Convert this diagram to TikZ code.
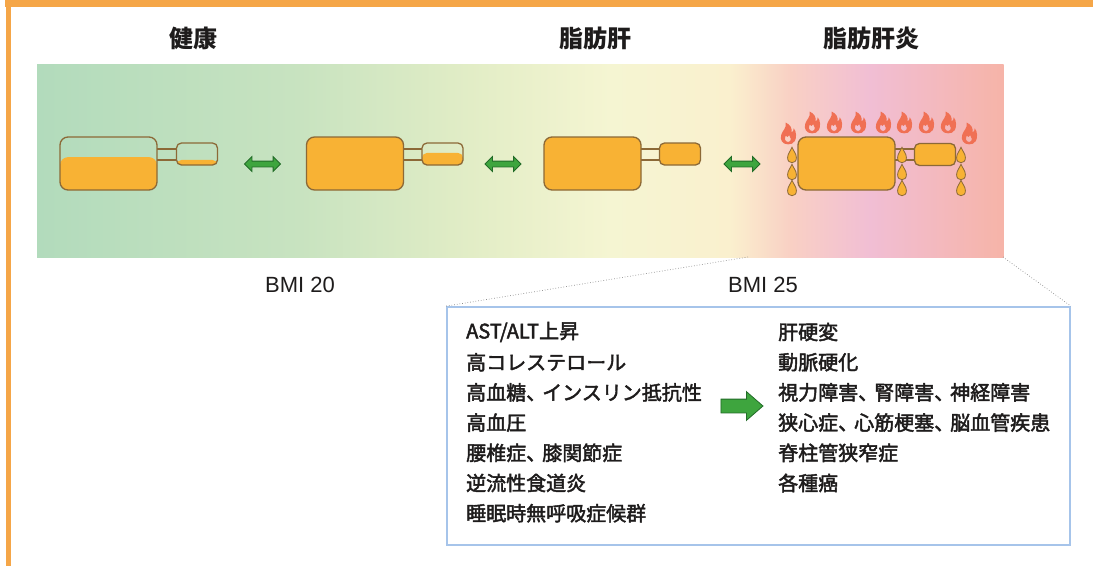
\documentclass[tikz,border=0pt]{standalone}
\usepackage{fontspec}
\setmainfont{Liberation Sans}
\newfontfamily\jpfont{Noto Sans CJK JP}
\newfontfamily\jpitem{Noto Sans CJK JP}[FakeBold=2.2]
\usetikzlibrary{shapes.arrows,calc}

\definecolor{framecol}{RGB}{245,166,72}
\definecolor{liverfill}{RGB}{248,178,52}
\definecolor{liverline}{RGB}{140,105,55}
\definecolor{flamecol}{RGB}{240,112,84}
\definecolor{arrowfill}{RGB}{62,165,62}
\definecolor{arrowline}{RGB}{34,108,40}
\definecolor{boxline}{RGB}{166,196,234}
\definecolor{textcol}{RGB}{30,28,28}
\definecolor{bgA}{RGB}{178,219,188}
\definecolor{bgB}{RGB}{200,227,192}
\definecolor{bgC}{RGB}{226,237,198}
\definecolor{bgD}{RGB}{245,245,210}
\definecolor{bgE}{RGB}{250,240,206}
\definecolor{bgF}{RGB}{249,208,196}
\definecolor{bgG}{RGB}{241,190,212}
\definecolor{bgH}{RGB}{246,180,168}

% narrower ideographic comma
\newcommand\tou{\makebox[0.8em][l]{、}}

\tikzset{
  liver/.style={draw=liverline, line width=1.3pt, inner sep=0pt},
  bigliver/.style={liver, minimum width=97pt, minimum height=53pt, rounded corners=8pt},
  smallliver/.style={liver, minimum width=41pt, minimum height=22pt, rounded corners=5pt},
  level/.style={path picture={\fill[liverfill] (path picture bounding box.south west) rectangle
      ($(path picture bounding box.south east)!#1!(path picture bounding box.north east)$);}},
  full/.style={fill=liverfill},
  tube/.style={draw=liverline, line width=1.1pt},
  swap/.style={double arrow, fill=arrowfill, draw=arrowline, line width=0.8pt,
      minimum height=36pt, inner xsep=0pt, inner ysep=2.5pt, double arrow head extend=4.5pt,
      double arrow tip angle=90},
  leadsto/.style={single arrow, fill=arrowfill, draw=arrowline, line width=0.8pt,
      minimum height=42pt, inner xsep=0pt, inner ysep=6.5pt, single arrow head extend=7.5pt,
      single arrow tip angle=82},
  heading/.style={font=\jpfont\bfseries\fontsize{24}{28}\selectfont, text=textcol},
  bmi/.style={font=\fontsize{22}{26}\selectfont, text=textcol},
  item/.style={font=\jpitem\fontsize{20}{24}\selectfont, text=textcol, anchor=west, inner sep=0pt},
  listbox/.style={draw=boxline, line width=1.8pt, fill=white, minimum width=623pt, minimum height=238pt},
  zoomline/.style={draw=black!45, dotted, line width=0.7pt},
  drop/.pic={\filldraw[fill=liverfill, draw=liverline, line width=0.8pt, scale=1.1]
      (0,-7) .. controls (1.5,-3.5) and (4,-1) .. (4,2.5) .. controls (4,5.5) and (2.2,7) .. (0,7)
      .. controls (-2.2,7) and (-4,5.5) .. (-4,2.5) .. controls (-4,-1) and (-1.5,-3.5) .. (0,-7) -- cycle;},
  flame/.pic={\fill[flamecol, even odd rule, scale=1.15]
      (0,9) .. controls (-5,9) and (-7,5) .. (-6,1)
      .. controls (-5,-3) and (-1,-5) .. (-2,-10)
      .. controls (2,-8) and (4,-5) .. (3,-1)
      .. controls (4.5,-2) and (5,-4) .. (5,-5)
      .. controls (7.5,-2) and (7.5,3) .. (6,6)
      .. controls (4.5,8.5) and (2.5,9) .. (0,9) -- cycle
      (0.5,7) .. controls (-2.5,7) and (-3.5,4) .. (-2,1.5)
      .. controls (-1,3) and (0.5,3) .. (1,1)
      .. controls (2.5,2.5) and (3.5,6) .. (0.5,7) -- cycle;}
}

\begin{document}
\begin{tikzpicture}[x=1pt,y=-1pt]
\useasboundingbox (0,0) rectangle (1093,566);
\fill[white] (0,0) rectangle (1093,566);

% orange frame
\fill[framecol] (5,0) rectangle (1093,7);
\fill[framecol] (6,0) rectangle (11,566);

% colour band from healthy to inflamed
\foreach \xa/\xb/\ca/\cb in {37/300/bgA/bgB, 300/470/bgB/bgC, 470/610/bgC/bgD, 610/730/bgD/bgE,
    730/790/bgE/bgF, 790/870/bgF/bgG, 870/1003/bgG/bgH}
  \shade[left color=\ca, right color=\cb] (\xa,64) rectangle (\xb+0.6,257);
\coordinate (bandL) at (748,257);
\coordinate (bandR) at (1003,257);

% headings
\node[heading] (h1) at (193,38) {健康};
\node[heading] (h2) at (595,38) {脂肪肝};
\node[heading] (h3) at (871,38) {脂肪肝炎};

% liver 1
\draw[tube] (157,149) -- (177,149) (157,160) -- (177,160);
\node[bigliver, level=0.62] (big1) at (108.5,163.5) {};
\node[smallliver, level=0.23] (small1) at (197,154) {};
% liver 2
\draw[tube] (403,149) -- (422,149) (403,160) -- (422,160);
\node[bigliver, full] (big2) at (355,163.5) {};
\node[smallliver, level=0.55] (small2) at (442.5,154) {};
% liver 3
\draw[tube] (641,149) -- (659,149) (641,160) -- (659,160);
\node[bigliver, full] (big3) at (592.5,163.5) {};
\node[smallliver, full] (small3) at (680,154) {};
% liver 4
\draw[tube] (895,149) -- (914,149) (895,160) -- (914,160);
\node[bigliver, full] (big4) at (846.5,163.5) {};
\node[smallliver, full] (small4) at (935,154.5) {};

% reversible steps
\node[swap] (s1) at (262.5,164) {};
\node[swap] (s2) at (503,164) {};
\node[swap] (s3) at (742,164) {};

% inflammation: drops and flames
\foreach \dx in {792,902,961}
  \foreach \dy in {155,172,188}
    \pic at (\dx,\dy) {drop};
\foreach \fx/\fy in {788/134, 812/123, 834/123, 858/123, 883/123, 904/123, 926/123, 948/123, 969/134}
  \pic at (\fx,\fy) {flame};

% BMI marks
\node[bmi] (bmi20) at (300,285) {BMI 20};
\node[bmi] (bmi25) at (763,285) {BMI 25};

% complications box
\node[listbox] (list) at (758.5,426) {};
\draw[zoomline] (bandL) -- (list.north west);
\draw[zoomline] (bandR) -- (list.north east);

\foreach \t [count=\i] in {AST/ALT上昇, 高コレステロール, 高血糖\tou インスリン抵抗性, 高血圧,
    腰椎症\tou 膝関節症, 逆流性食道炎, 睡眠時無呼吸症候群}
  \node[item] (cause\i) at (466,{332+30.2*(\i-1)}) {\t};
\foreach \t [count=\i] in {肝硬変, 動脈硬化, 視力障害\tou 腎障害\tou 神経障害, 狭心症\tou 心筋梗塞\tou 脳血管疾患,
    脊柱管狭窄症, 各種癌}
  \node[item] (result\i) at (778,{332+30.2*(\i-1)}) {\t};

\node[leadsto] (lead) at (738,406) {};
\end{tikzpicture}
\end{document}
